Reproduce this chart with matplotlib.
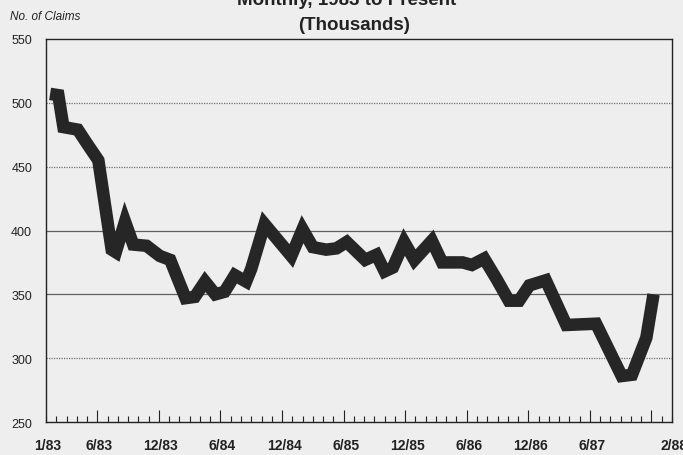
import numpy as np
import matplotlib
matplotlib.use('Agg')
import matplotlib.pyplot as plt
from matplotlib.ticker import MultipleLocator, FixedLocator

plt.rcParams['font.family'] = ['Liberation Sans', 'DejaVu Sans']

################################################################################
# Data (months after 1/83, claims in thousands)

months = [0.4, 1.2, 1.7, 3.1, 4.0, 5.1, 6.4, 6.8, 7.7, 8.5, 9.8, 11.1, 12.1,
          13.6, 14.5, 15.5, 16.5, 17.4, 18.4, 19.5, 20.0, 21.3, 23.9, 25.0,
          26.0, 27.3, 28.3, 29.3, 31.1, 32.2, 33.0, 33.8, 34.9, 35.9, 37.6,
          38.6, 40.6, 41.5, 42.7, 43.9, 45.1, 46.1, 47.1, 48.7, 50.7, 53.6,
          56.1, 57.1, 58.5, 59.2]
claims = [507, 506, 481, 479, 468, 455, 385, 383, 407, 389, 388, 380, 377,
          347, 348, 360, 350, 352, 365, 360, 370, 405, 380, 401,
          387, 385, 386, 391, 377, 381, 368, 371, 391, 377, 392,
          375, 375, 373, 378, 362, 345, 345, 357, 361, 326, 327,
          286, 287, 316, 350]

tickMonths = [0, 5, 11, 17, 23, 29, 35, 41, 47, 53, 61]
tickLabels = ['1/83', '6/83', '12/83', '6/84', '12/84', '6/85', '12/85',
              '6/86', '12/86', '6/87', '2/88']
majorMonths = [5, 11, 17, 23, 29, 35, 41, 47, 53, 59]

yTicks = [250, 300, 350, 400, 450, 500, 550]
dottedGrid = [300, 450, 500]
solidGrid = [350, 400]

################################################################################
# Plot

bg = '#eeeeee'
fig = plt.figure(figsize=(6.83, 4.56), dpi=100, facecolor=bg)
ax = fig.add_axes([46/683, 1-423/456, 626/683, 383/456], facecolor=bg)

for g in dottedGrid:
	ax.axhline(g, color='#707070', lw=0.9, ls=(0, (1, 1)), zorder=1)
for g in solidGrid:
	ax.axhline(g, color='#606060', lw=0.9, zorder=1)

ax.plot(months, claims, color='#262626', lw=9.0, solid_joinstyle='miter',
        solid_capstyle='butt', zorder=3)

ax.set_xlim(0, 61)
ax.set_ylim(250, 550)

ax.xaxis.set_minor_locator(MultipleLocator(1))
ax.xaxis.set_major_locator(FixedLocator(majorMonths))
ax.tick_params(axis='x', which='minor', direction='in', length=4.0, width=0.8,
               color='#222222', top=False)
ax.tick_params(axis='x', which='major', direction='in', length=8.5, width=0.8,
               color='#222222', top=False, labelbottom=False)

# x labels
for m, lab in zip(tickMonths, tickLabels):
	ax.text(m + 0.2, -0.042, lab, transform=ax.get_xaxis_transform(),
	        ha='center', va='top', fontsize=10, fontweight='bold',
	        color='#222222', clip_on=False)

ax.set_yticks(yTicks)
ax.tick_params(axis='y', length=0, pad=10, labelsize=9, labelcolor='#222222')

for s in ax.spines.values():
	s.set_linewidth(1.0)
	s.set_color('#222222')

fig.text(10/683, 1-17/456, 'No. of Claims', fontsize=8.5, style='italic',
         ha='left', va='center', color='#222222')
fig.text(354/683, 1-25/456, '(Thousands)', fontsize=13.5, fontweight='bold',
         ha='center', va='center', color='#222222')
fig.text(347/683, 1-5/456, 'Monthly, 1983 to Present', fontsize=13.5,
         fontweight='bold', ha='center', va='baseline', color='#222222')

fig.savefig('out.png', dpi=100, facecolor=bg)
